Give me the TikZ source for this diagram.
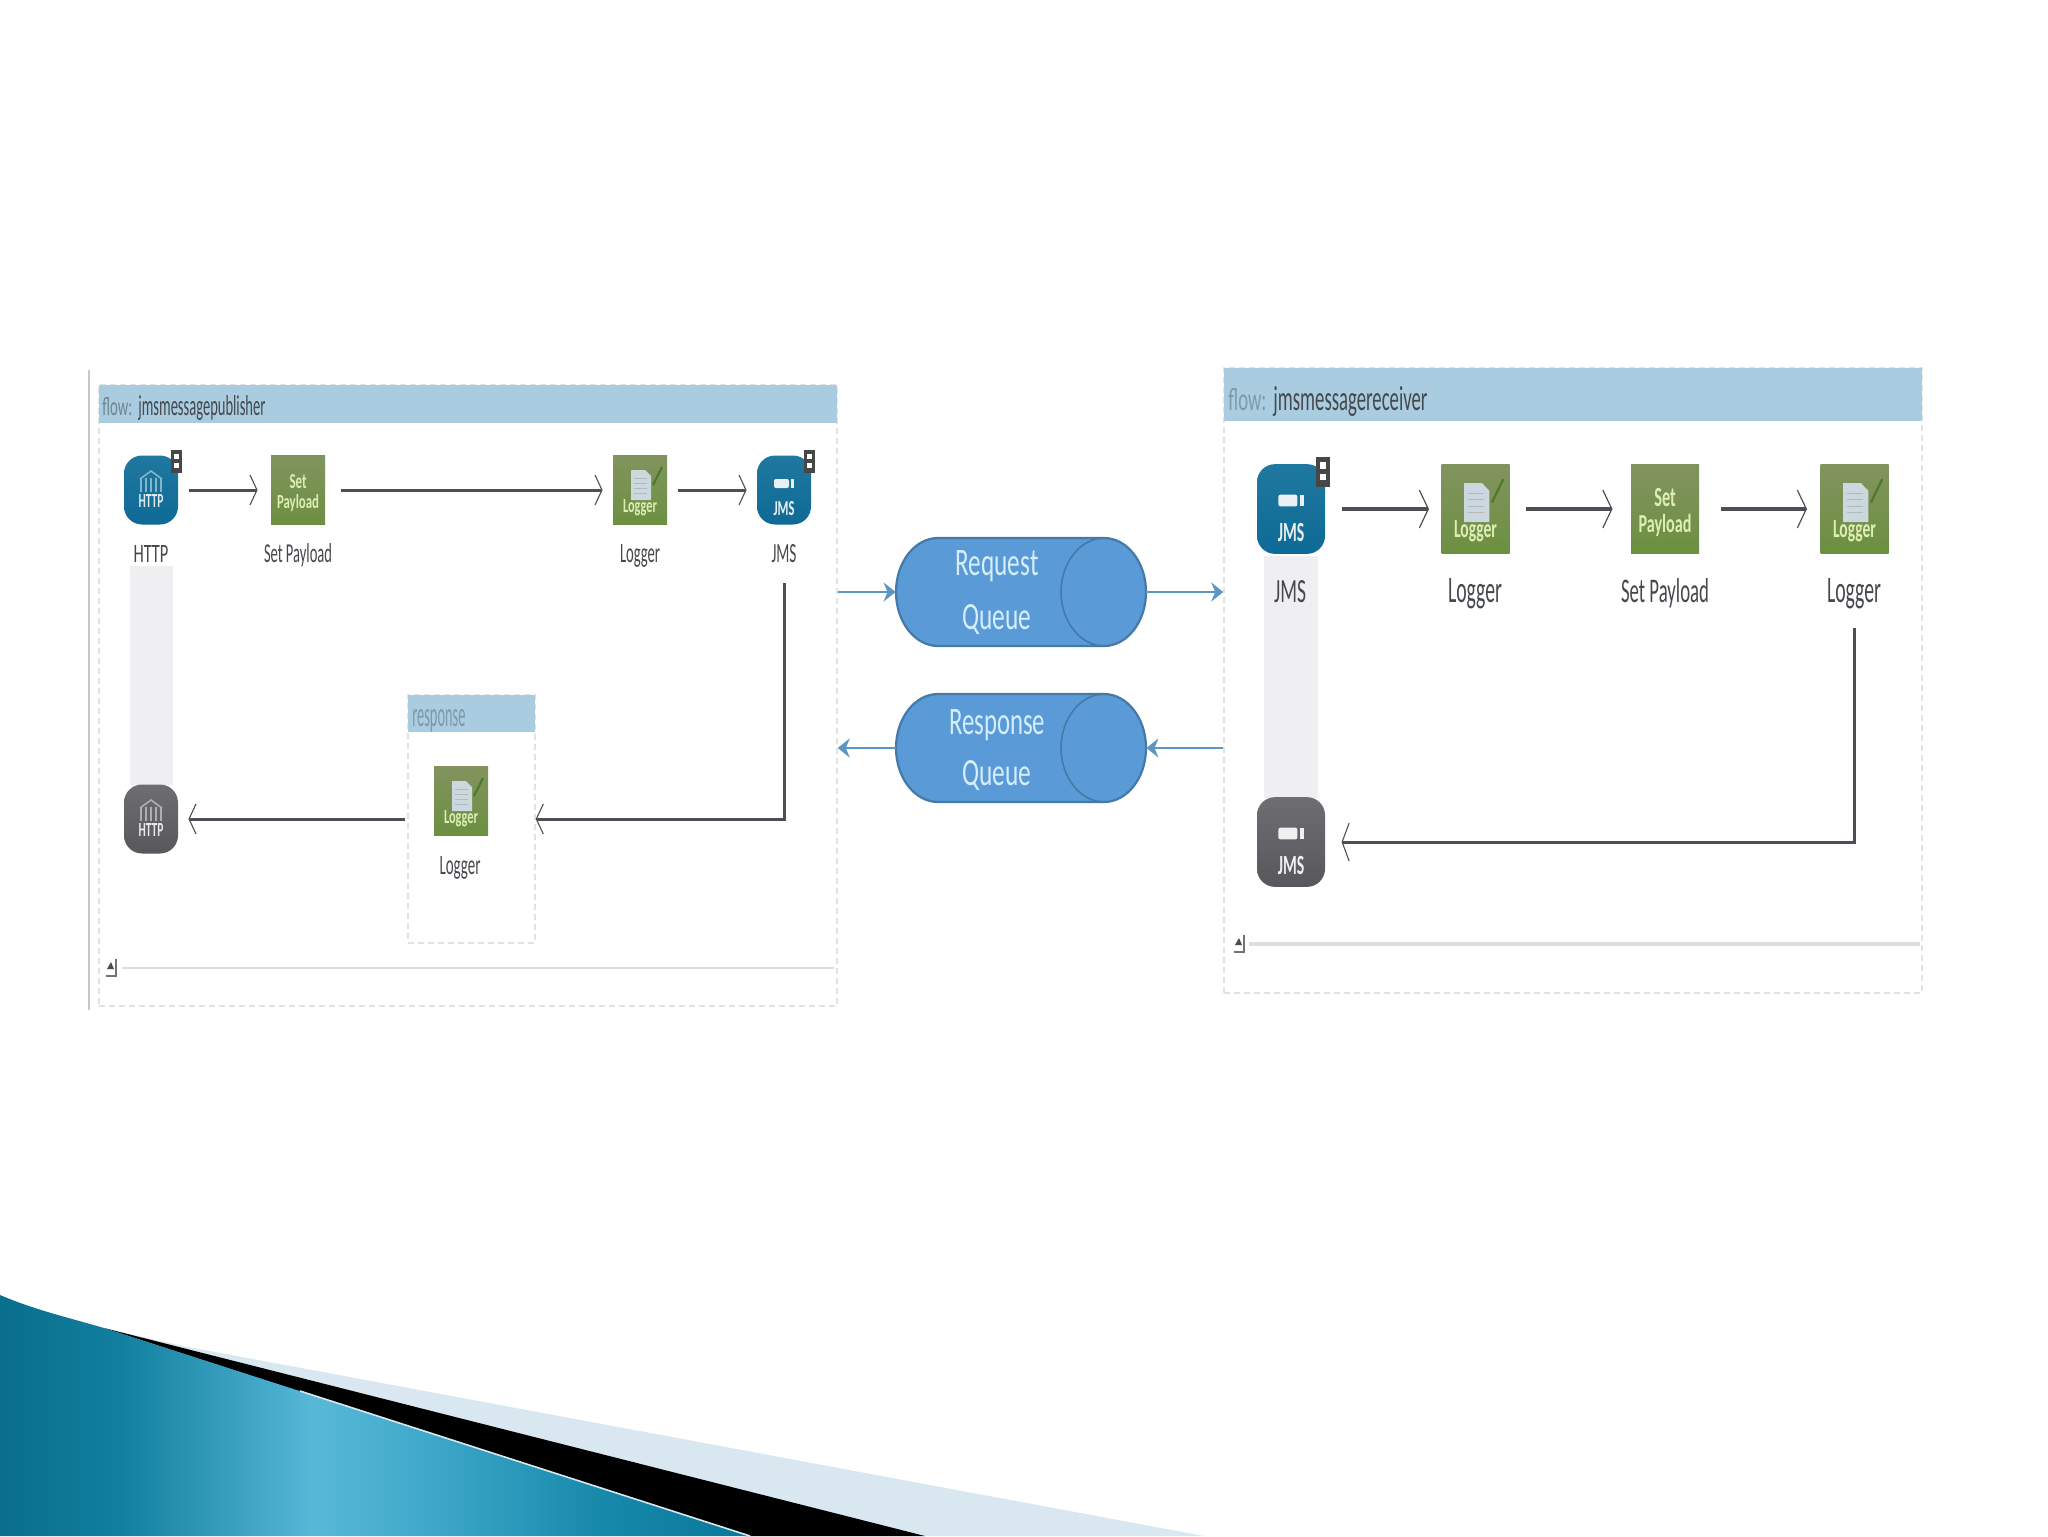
\documentclass[tikz,border=0pt]{standalone}
\usepackage{fontspec}
\setmainfont{Carlito}
\usetikzlibrary{arrows.meta,calc}
\definecolor{panelhead}{HTML}{A9CCE0}
\definecolor{paneldash}{HTML}{E0E2E4}
\definecolor{barc}{HTML}{EFEFF1}
\definecolor{flowline}{HTML}{4C5056}
\definecolor{queuefill}{HTML}{5A9AD6}
\definecolor{queueline}{HTML}{4579A8}
\definecolor{queuetext}{HTML}{D5EEFF}
\definecolor{bluearrow}{HTML}{5C97C4}
\definecolor{labelc}{HTML}{45484C}
\definecolor{greentop}{HTML}{82935F}
\definecolor{greenbot}{HTML}{6C9040}
\definecolor{greentext}{HTML}{DCEEB4}
\definecolor{doccol}{HTML}{CBD8DF}
\definecolor{pencilc}{HTML}{4D7A2A}
\definecolor{bluetop}{HTML}{1F789F}
\definecolor{bluebot}{HTML}{0E6A96}
\definecolor{graytop}{HTML}{6E6E72}
\definecolor{graybot}{HTML}{58585C}
\definecolor{swa}{HTML}{0A6E8D}
\definecolor{swb}{HTML}{117F9E}
\definecolor{swc}{HTML}{58B8D8}
\definecolor{swd}{HTML}{3DA7C8}
\definecolor{swe}{HTML}{1789AB}
\definecolor{swf}{HTML}{08789A}
\definecolor{swlight}{HTML}{D9E8F0}
\pgfdeclarehorizontalshading{swooshshade}{100bp}{color(0bp)=(swa);color(25bp)=(swa);color(33bp)=(swb);color(46bp)=(swc);color(54bp)=(swd);color(65bp)=(swe);color(75bp)=(swf);color(100bp)=(swf)}
\newcommand{\tx}[3]{\resizebox{\dimexpr#1pt/2\relax}{\dimexpr#2pt/2\relax}{#3}}
\tikzset{
  panelbox/.style={draw=paneldash,densely dashed,line width=.7pt,fill=white,inner sep=0pt},
  headbar/.style={fill=panelhead,draw=none,inner sep=0pt},
  lab/.style={anchor=base,inner sep=0pt,text=labelc},
  headtext/.style={anchor=base west,inner sep=0pt,text=#1},
  qtext/.style={anchor=base,inner sep=0pt,text=queuetext},
  flow/.style={draw=flowline,line width=1.5pt,-{Straight Barb[length=3.5pt,width=#1,line width=.55pt]}},
  flowthick/.style={draw=flowline,line width=1.9pt,-{Straight Barb[length=4.5pt,width=#1,line width=.6pt]}},
  bluearr/.style={draw=bluearrow,line width=1pt,-{Stealth[length=6pt,width=9.5pt]}},
  greenbox/.style={rectangle,top color=greentop,bottom color=greenbot,minimum width=27pt,minimum height=34.5pt,inner sep=0pt},
  bluebox/.style={rectangle,rounded corners=9pt,top color=bluetop,bottom color=bluebot,minimum width=27pt,minimum height=34.5pt,inner sep=0pt},
  graybox/.style={rectangle,rounded corners=9pt,top color=graytop,bottom color=graybot,minimum width=27pt,minimum height=34.5pt,inner sep=0pt},
  icontext/.style={anchor=base,inner sep=0pt,text=#1,font=\bfseries},
  queuespot/.style={rectangle,minimum width=125pt,minimum height=#1,inner sep=0pt},
  scrollline/.style={draw=black!13,line width=#1},
}
\newcommand{\badge}[4]{\begin{scope}[shift={(#1,#2)},xscale=#3,yscale=#4]
  \fill[black!72] (19.5,-40) rectangle (31,-17);
  \fill[white] (23,-36) rectangle (27.5,-31);\fill[white] (23,-27) rectangle (27.5,-22);
\end{scope}}
\newcommand{\scrollglyph}[2]{\begin{scope}[shift={(#1,#2)}]
  \fill[black!70] (-4,1) -- (0,-6) -- (3,1) -- cycle;
  \draw[black!55,line width=.7pt] (5,-9) -- (5,8) -- (-5,8);
\end{scope}}
\newcommand{\loggericon}[5]{\begin{scope}[shift={(#2,#3)},xscale=#4,yscale=#5,transform shape]
  \node[greenbox] (#1) at (0,0) {};
  \fill[doccol] (-9,-20) -- (5,-20) -- (11,-14) -- (11,10) -- (-9,10) -- cycle;
  \foreach \yy in {-12,-7,-2,3}{\draw[black!28,line width=.45pt] (-6,\yy) -- (7,\yy);}
  \draw[pencilc,line width=1.1pt] (13,-5) -- (22,-23);
  \node[icontext=greentext] (#1t) at (0,22) {\tx{34}{13}{Logger}};
\end{scope}}
\newcommand{\payloadicon}[5]{\begin{scope}[shift={(#2,#3)},xscale=#4,yscale=#5,transform shape]
  \node[greenbox] (#1) at (0,0) {};
  \node[icontext=greentext] (#1a) at (0,-2) {\tx{17}{14}{Set}};
  \node[icontext=greentext] (#1b) at (0,18) {\tx{42}{14}{Payload}};
\end{scope}}
\newcommand{\httpicon}[6]{\begin{scope}[shift={(#2,#3)},xscale=#4,yscale=#5,transform shape]
  \node[#6box] (#1) at (0,0) {};
  \foreach \xx in {-10,-5,0,5,10}{\draw[white!45!#6top,line width=.8pt] (\xx,-12) -- (\xx,2);}
  \draw[white!45!#6top,line width=.8pt] (-11,-11) -- (0,-19) -- (11,-11);
  \node[icontext=white!85!#6top] (#1t) at (0,17) {\tx{25}{13}{HTTP}};
\end{scope}}
\newcommand{\jmsicon}[6]{\begin{scope}[shift={(#2,#3)},xscale=#4,yscale=#5,transform shape]
  \node[#6box] (#1) at (0,0) {};
  \fill[white!90!#6top,rounded corners=1pt] (-10,-11) rectangle (5,-2);
  \fill[white!90!#6top] (7,-11) rectangle (10,-2);
  \node[icontext=white!90!#6top] (#1t) at (0,25) {\tx{21}{14}{JMS}};
\end{scope}}
\newcommand{\queueshape}[1]{\begin{scope}[shift={(#1.center)}]
  \path[fill=queuefill,draw=queueline,line width=1.1pt]
    (-83,-54) -- (83,-54) .. controls (106,-54) and (125,-30) .. (125,0)
    .. controls (125,30) and (106,54) .. (83,54) -- (-83,54)
    .. controls (-106,54) and (-125,30) .. (-125,0)
    .. controls (-125,-30) and (-106,-54) .. (-83,-54) -- cycle;
  \draw[queueline,line width=.8pt] (83,-54) .. controls (60,-54) and (40,-30) .. (40,0)
    .. controls (40,30) and (60,54) .. (83,54);
\end{scope}}
\begin{document}
\begin{tikzpicture}[x=.5pt,y=-.5pt]
\useasboundingbox (0,0) rectangle (2048,1536);
\fill[white] (0,0) rectangle (2048,1536);
% bottom-left swoosh
\fill[swlight] (104,1328) -- (183,1346) -- (1204,1536) -- (740,1536) -- cycle;
\fill[black] (104,1328) -- (925,1536) -- (745,1536) -- cycle;
\shade[shading=swooshshade] (0,1295) .. controls (35,1310) and (70,1318) .. (104,1328) -- (750,1536) -- (0,1536) -- cycle;
\draw[swlight,line width=.8pt] (300,1391) -- (750,1536);
% left flow
\draw[black!22,line width=.8pt] (89,370) -- (89,1010);
\node[panelbox,minimum width=369pt,minimum height=310.5pt] (panelL) at (468,695.5) {};
\node[headbar,minimum width=369pt,minimum height=19pt] (headL) at (468,404) {};
\node[headtext=black!35!panelhead] (flowL) at (102,415) {\tx{30}{18}{flow:}};
\node[headtext=labelc] (nameL) at (138,415) {\tx{127}{20}{jmsmessagepublisher}};
\fill[barc] (130,566) rectangle (173,785);
\node[panelbox,minimum width=63.5pt,minimum height=124pt] (respbox) at (471.5,819) {};
\node[headbar,minimum width=63.5pt,minimum height=18.5pt] (resphead) at (471.5,713.5) {};
\node[headtext=black!25!panelhead] (resptext) at (412,726) {\tx{53}{17}{response}};
\httpicon{httpa}{151}{490}{1}{1}{blue}
\badge{151}{490}{1}{1}
\payloadicon{setL}{298}{490}{1}{1}
\loggericon{logL}{640}{490}{1}{1}
\jmsicon{jmsL}{784}{490}{1}{1}{blue}
\badge{784}{490}{1}{1}
\httpicon{httpb}{151}{819}{1}{1}{gray}
\loggericon{logR}{461}{801}{1}{1}
\node[lab] (l1) at (151,562) {\tx{35}{17}{HTTP}};
\node[lab] (l2) at (298,562) {\tx{68}{19}{Set Payload}};
\node[lab] (l3) at (640,562) {\tx{40}{18}{Logger}};
\node[lab] (l4) at (784,562) {\tx{25}{18}{JMS}};
\node[lab] (l5) at (460,874) {\tx{41}{18}{Logger}};
\draw[flow=15pt,shorten <=5.5pt,shorten >=6.5pt] (httpa) -- (setL);
\draw[flow=15pt,shorten <=8pt,shorten >=5pt] (setL) -- (logL);
\draw[flow=15pt,shorten <=5.5pt,shorten >=5pt] (logL) -- (jmsL);
\draw[flow=15pt,shorten <=29pt] (jmsL.south) |- (respbox.east);
\draw[flow=15pt,shorten <=1pt,shorten >=5pt] (respbox.west) -- (httpb);
\draw[scrollline=1.3pt] (122,968) -- (834,968);
\scrollglyph{111}{968}
% right flow
\node[panelbox,minimum width=349pt,minimum height=312.5pt] (panelR) at (1573,680.5) {};
\node[headbar,minimum width=349pt,minimum height=26.5pt] (headR) at (1573,394.5) {};
\node[headtext=black!25!panelhead] (flowR) at (1228,410) {\tx{38}{22}{flow:}};
\node[headtext=labelc] (nameR) at (1273,410) {\tx{154}{24}{jmsmessagereceiver}};
\fill[barc] (1264,556) rectangle (1318,798);
\jmsicon{jmsa}{1291}{509}{1.26}{1.3}{blue}
\badge{1291}{509}{1.26}{1.3}
\loggericon{lg1}{1475.5}{509}{1.26}{1.3}
\payloadicon{setR}{1665}{509}{1.26}{1.3}
\loggericon{lg2}{1854.5}{509}{1.26}{1.3}
\jmsicon{jmsb}{1291}{842}{1.26}{1.3}{gray}
\node[lab] (r1) at (1290,602) {\tx{32}{22}{JMS}};
\node[lab] (r2) at (1475,602) {\tx{54}{24}{Logger}};
\node[lab] (r3) at (1665,602) {\tx{88}{24}{Set Payload}};
\node[lab] (r4) at (1854,602) {\tx{54}{24}{Logger}};
\draw[flowthick=19pt,shorten <=8pt,shorten >=6pt] (jmsa) -- (lg1);
\draw[flowthick=19pt,shorten <=8pt,shorten >=9pt] (lg1) -- (setR);
\draw[flowthick=19pt,shorten <=10.5pt,shorten >=6.5pt] (setR) -- (lg2);
\draw[flow=19pt,shorten <=37pt,shorten >=8pt] (lg2.south) |- (jmsb.east);
\draw[scrollline=1.9pt] (1249,944) -- (1920,944);
\scrollglyph{1239}{944}
% queues
\node[queuespot=54pt] (req) at (1021,592) {};
\node[queuespot=54pt] (res) at (1021,748) {};
\queueshape{req}
\queueshape{res}
\node[qtext] (q1) at (997,575) {\tx{83}{25}{Request}};
\node[qtext] (q2) at (997,629) {\tx{69}{25}{Queue}};
\node[qtext] (q3) at (997,734) {\tx{96}{25}{Response}};
\node[qtext] (q4) at (997,785) {\tx{69}{25}{Queue}};
\draw[bluearr] (panelL.east |- req.west) -- (req.west);
\draw[bluearr] (req.east) -- (panelR.west |- req.east);
\draw[bluearr] (panelR.west |- res.east) -- (res.east);
\draw[bluearr] (res.west) -- (panelL.east |- res.west);
\end{tikzpicture}
\end{document}
